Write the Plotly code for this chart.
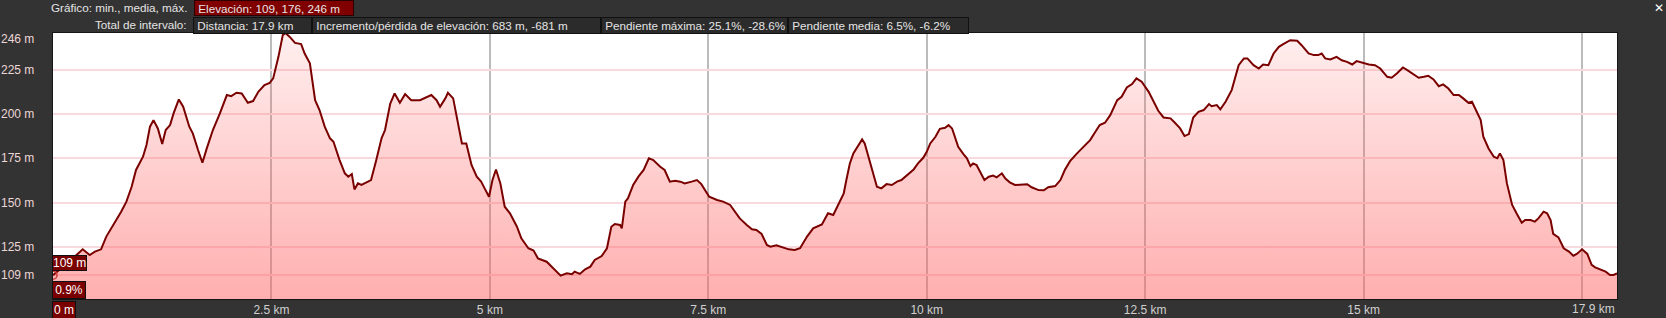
import plotly.graph_objects as go

# ---- data ----
dist_km = [0.00, 0.11, 0.25, 0.34, 0.42, 0.48, 0.55, 0.61, 0.67, 0.73, 0.78, 0.84, 0.90, 0.95, 0.99,
           1.03, 1.07, 1.11, 1.15, 1.20, 1.25, 1.29, 1.34, 1.38, 1.44, 1.49, 1.56, 1.60, 1.66, 1.71,
           1.76, 1.83, 1.91, 1.99, 2.04, 2.10, 2.16, 2.20, 2.23, 2.29, 2.35, 2.42, 2.48, 2.52, 2.58,
           2.63, 2.66, 2.71, 2.77, 2.84, 2.88, 2.94, 3.00, 3.05, 3.11, 3.17, 3.21, 3.28, 3.34, 3.38,
           3.42, 3.45, 3.49, 3.53, 3.59, 3.64, 3.70, 3.76, 3.80, 3.86, 3.91, 3.97, 4.03, 4.10, 4.20,
           4.29, 4.33, 4.39, 4.43, 4.49, 4.52, 4.58, 4.62, 4.68, 4.73, 4.79, 4.85, 4.90, 4.94, 4.99,
           5.03, 5.07, 5.12, 5.17, 5.23, 5.31, 5.36, 5.44, 5.50, 5.55, 5.65, 5.73, 5.81, 5.88, 5.94,
           5.97, 6.03, 6.09, 6.15, 6.20, 6.28, 6.34, 6.39, 6.43, 6.49, 6.51, 6.55, 6.58, 6.64, 6.70,
           6.76, 6.82, 6.87, 6.95, 7.00, 7.06, 7.12, 7.18, 7.23, 7.31, 7.37, 7.42, 7.51, 7.60, 7.67,
           7.75, 7.81, 7.86, 7.94, 8.00, 8.05, 8.11, 8.17, 8.21, 8.28, 8.36, 8.42, 8.49, 8.55, 8.63,
           8.70, 8.80, 8.87, 8.93, 8.99, 9.05, 9.08, 9.12, 9.16, 9.22, 9.26, 9.29, 9.33, 9.37, 9.43,
           9.48, 9.54, 9.60, 9.66, 9.71, 9.77, 9.85, 9.90, 9.96, 10.00, 10.04, 10.10, 10.15, 10.21,
           10.25, 10.29, 10.32, 10.36, 10.42, 10.46, 10.50, 10.53, 10.57, 10.61, 10.66, 10.71, 10.76,
           10.80, 10.86, 10.90, 10.95, 11.01, 11.09, 11.15, 11.20, 11.28, 11.34, 11.39, 11.47, 11.53,
           11.58, 11.64, 11.72, 11.79, 11.87, 11.93, 11.98, 12.04, 12.10, 12.18, 12.23, 12.29, 12.35,
           12.40, 12.46, 12.54, 12.60, 12.65, 12.71, 12.79, 12.84, 12.90, 12.95, 13.00, 13.05, 13.11,
           13.17, 13.23, 13.26, 13.32, 13.36, 13.42, 13.49, 13.53, 13.57, 13.63, 13.67, 13.74, 13.80,
           13.85, 13.91, 13.97, 14.03, 14.08, 14.16, 14.24, 14.29, 14.37, 14.43, 14.48, 14.52, 14.56,
           14.62, 14.69, 14.75, 14.81, 14.87, 14.92, 15.00, 15.06, 15.13, 15.19, 15.27, 15.32, 15.38,
           15.45, 15.50, 15.57, 15.63, 15.69, 15.74, 15.80, 15.86, 15.91, 15.97, 16.03, 16.09, 16.14,
           16.20, 16.24, 16.30, 16.34, 16.37, 16.43, 16.49, 16.53, 16.56, 16.60, 16.64, 16.70, 16.75,
           16.81, 16.85, 16.91, 16.96, 17.00, 17.06, 17.10, 17.14, 17.17, 17.23, 17.29, 17.35, 17.40,
           17.44, 17.50, 17.56, 17.61, 17.65, 17.71, 17.77, 17.82, 17.86, 17.90]
elev_m = [109.0, 113.4, 119.5, 123.6, 120.4, 122.3, 123.6, 130.8, 135.5, 140.2, 144.9, 150.6, 159.0,
          168.5, 172.2, 176.0, 182.6, 193.0, 196.7, 192.0, 183.2, 191.1, 193.9, 200.5, 208.4, 204.3,
          193.0, 189.2, 179.8, 172.6, 180.7, 191.1, 200.5, 210.9, 210.3, 212.2, 211.8, 209.0, 206.5,
          207.5, 212.7, 216.5, 217.8, 220.3, 232.5, 244.8, 246.0, 243.8, 240.4, 239.7, 234.4, 228.8,
          208.0, 202.4, 193.0, 186.4, 184.5, 174.1, 166.6, 164.7, 166.2, 157.5, 160.9, 160.0, 161.3,
          162.8, 174.1, 186.4, 191.1, 206.1, 211.8, 206.5, 211.4, 208.0, 208.0, 209.9, 210.9, 208.0,
          204.3, 209.0, 212.2, 209.0, 198.6, 183.5, 183.5, 171.3, 164.7, 161.9, 158.1, 153.4, 162.8,
          168.8, 160.9, 147.7, 144.0, 136.4, 129.8, 124.2, 122.9, 118.5, 116.6, 112.9, 108.7, 110.0,
          109.5, 111.0, 109.7, 112.3, 113.8, 117.6, 119.8, 124.2, 136.4, 137.9, 137.4, 135.5, 150.6,
          152.4, 160.0, 164.7, 168.5, 175.1, 174.1, 170.3, 168.5, 161.9, 162.4, 161.9, 160.9, 161.9,
          162.8, 160.5, 153.4, 151.5, 150.6, 148.7, 144.9, 141.1, 137.4, 134.9, 134.5, 132.3, 126.1,
          125.1, 125.9, 124.7, 123.6, 123.2, 124.2, 130.8, 135.5, 137.7, 144.0, 143.0, 149.6, 155.3,
          162.8, 172.2, 177.9, 182.6, 185.8, 183.5, 176.9, 170.3, 159.0, 158.1, 160.5, 160.0, 161.9,
          162.8, 165.6, 168.8, 172.2, 175.4, 178.8, 183.5, 187.3, 191.8, 192.4, 193.9, 192.0, 187.3,
          181.6, 177.5, 175.1, 170.7, 172.2, 171.3, 167.5, 162.8, 164.7, 165.3, 164.3, 166.6, 163.7,
          161.5, 160.0, 160.0, 160.4, 158.7, 157.1, 157.0, 158.7, 159.4, 162.8, 168.5, 173.5, 177.9,
          181.6, 185.4, 190.1, 193.9, 195.2, 199.5, 208.0, 209.9, 215.2, 217.1, 220.3, 218.4, 212.7,
          207.1, 202.0, 198.2, 197.7, 195.2, 192.0, 187.7, 188.8, 198.2, 201.4, 202.4, 205.8, 204.6,
          205.2, 202.8, 207.1, 213.7, 221.2, 227.8, 231.6, 231.6, 227.8, 225.9, 228.2, 227.8, 234.4,
          238.2, 239.7, 241.9, 241.6, 239.1, 234.4, 233.5, 233.5, 234.4, 231.6, 231.0, 232.5, 230.6,
          229.7, 228.2, 230.1, 229.1, 228.2, 227.8, 225.9, 221.2, 220.7, 223.1, 226.5, 225.0, 222.7,
          220.7, 221.2, 221.8, 219.7, 215.9, 216.9, 214.6, 210.9, 210.9, 209.0, 206.5, 207.1, 201.4,
          196.7, 187.3, 180.7, 176.0, 175.1, 177.9, 174.1, 160.9, 148.7, 144.0, 138.7, 140.2, 140.2,
          139.3, 141.1, 144.9, 144.0, 140.2, 132.3, 130.4, 124.2, 122.3, 120.0, 121.0, 123.6, 121.0,
          114.8, 113.4, 112.3, 111.0, 109.1, 109.1, 110.0]

y_ticks = [246, 225, 200, 175, 150, 125, 109]
x_grid = [2.5, 5, 7.5, 10, 12.5, 15, 17.5]
x_labels = ["2.5 km", "5 km", "7.5 km", "10 km", "12.5 km", "15 km", ""]
total_km = 17.9
start_grade = "0.9%"

header_row1_label = "Gráfico: min., media, máx."
header_row1_box = "Elevación: 109, 176, 246 m"
header_row2_label = "Total de intervalo:"
header_row2_boxes = ["Distancia: 17.9 km",
                     "Incremento/pérdida de elevación: 683 m, -681 m",
                     "Pendiente máxima: 25.1%, -28.6%",
                     "Pendiente media: 6.5%, -6.2%"]

# ---- figure ----
W, H = 1666, 318
ML, MR, MT, MB = 53, 49, 33, 19
PW, PH = W - ML - MR, H - MT - MB
Y0, Y1 = 95.5, 246

def px_x(p):  # page pixel -> paper x
    return (p - ML) / PW

def px_y(p):  # page pixel -> paper y
    return (H - MB - p) / PH

FONT = "Liberation Sans, Arial, sans-serif"

fig = go.Figure()
fig.add_trace(go.Scatter(
    x=dist_km, y=elev_m, mode="lines",
    line=dict(color="#7a0000", width=2),
    fill="tozeroy",
    fillgradient=dict(type="vertical", start=Y0, stop=Y1,
                      colorscale=[[0, "rgba(255,95,95,0.50)"], [1, "rgba(255,95,95,0.10)"]]),
    hoverinfo="skip", showlegend=False,
))
fig.add_trace(go.Scatter(
    x=[dist_km[0]], y=[elev_m[0]], mode="markers",
    marker=dict(symbol="circle-open", size=8, color="#d03a3a", line=dict(width=1.5)),
    hoverinfo="skip", showlegend=False,
))

ann = []
# y labels
for v in y_ticks:
    ann.append(dict(x=0, xref="paper", y=v, yref="y", text=f"{v} m", showarrow=False,
                    xanchor="right", xshift=-17, yshift=-6 if v == y_ticks[0] else 0,
                    font=dict(family=FONT, size=12, color="#ecd6d6")))
# end label
ann.append(dict(x=total_km, xref="x", y=0, yref="paper", text=f"{total_km} km", showarrow=False,
                xanchor="right", yanchor="top", yshift=-1,
                font=dict(family=FONT, size=12, color="#d0d0d0")))
# boxed 0 m
ann.append(dict(x=0, xref="x", y=px_y(301), yref="paper", text="0 m", showarrow=False,
                xanchor="left", yanchor="top", xshift=-1, bgcolor="#7a0000", bordercolor="#111",
                borderwidth=1, borderpad=1, font=dict(family=FONT, size=12, color="#ffffff")))
# boxed start elevation
ann.append(dict(x=0, xref="x", y=elev_m[0], yref="y", text=f"{int(elev_m[0])} m", showarrow=False,
                xanchor="left", yanchor="bottom", xshift=-1, yshift=4, bgcolor="#7a0000",
                bordercolor="#111", borderwidth=1, borderpad=0,
                font=dict(family=FONT, size=12, color="#ffffff")))
# boxed start grade
ann.append(dict(x=0, xref="x", y=0, yref="paper", text=start_grade, showarrow=False,
                xanchor="left", yanchor="bottom", xshift=-1, bgcolor="#7a0000",
                bordercolor="#111", borderwidth=1, borderpad=1, width=30,
                font=dict(family=FONT, size=12, color="#ffffff")))

# header
hfont = dict(family=FONT, size=11.7, color="#e4e4e4")
ann.append(dict(x=px_x(189), xref="paper", y=px_y(7.5), yref="paper", text=header_row1_label,
                showarrow=False, xanchor="right", yanchor="middle", font=hfont))
ann.append(dict(x=px_x(194), xref="paper", y=px_y(0), yref="paper", text=" " + header_row1_box,
                showarrow=False, xanchor="left", yanchor="top", align="left",
                width=354 - 194 - 2, height=14, borderpad=0,
                bgcolor="#800000", bordercolor="#2a0000", borderwidth=1, font=hfont))
ann.append(dict(x=px_x(189), xref="paper", y=px_y(24.5), yref="paper", text=header_row2_label,
                showarrow=False, xanchor="right", yanchor="middle", font=hfont))
box_edges = [193, 312, 601, 788, 969]
for i, t in enumerate(header_row2_boxes):
    x0, x1 = box_edges[i], box_edges[i + 1]
    ann.append(dict(x=px_x(x0), xref="paper", y=px_y(16.5), yref="paper", text=" " + t,
                    showarrow=False, xanchor="left", yanchor="top", align="left",
                    width=x1 - x0 - 2, height=14.5, borderpad=0,
                    bgcolor="#2b2b2b", bordercolor="#111111", borderwidth=1, font=hfont))
ann.append(dict(x=px_x(1659), xref="paper", y=px_y(8), yref="paper", text="<b>✕</b>",
                showarrow=False, xanchor="center", yanchor="middle",
                font=dict(family="DejaVu Sans", size=12, color="#ffffff")))

fig.update_layout(
    width=W, height=H,
    margin=dict(l=ML, r=MR, t=MT, b=MB, autoexpand=False),
    paper_bgcolor="#333333", plot_bgcolor="#ffffff",
    annotations=ann,
    xaxis=dict(range=[0, total_km], tickvals=x_grid, ticktext=x_labels, showgrid=True,
               gridcolor="#bbbbbb", gridwidth=2, zeroline=False, ticks="", ticklen=0,
               automargin=False,
               tickfont=dict(family=FONT, size=12, color="#d0d0d0"),
               showline=True, linecolor="#151515", linewidth=1, mirror=True, fixedrange=True),
    yaxis=dict(range=[Y0, Y1], tickvals=y_ticks[1:], showticklabels=False, showgrid=True,
               gridcolor="#f7dadd", gridwidth=2, zeroline=False, automargin=False,
               showline=True, linecolor="#151515", linewidth=1, mirror=True, fixedrange=True),
)

fig.write_html("out.html")
